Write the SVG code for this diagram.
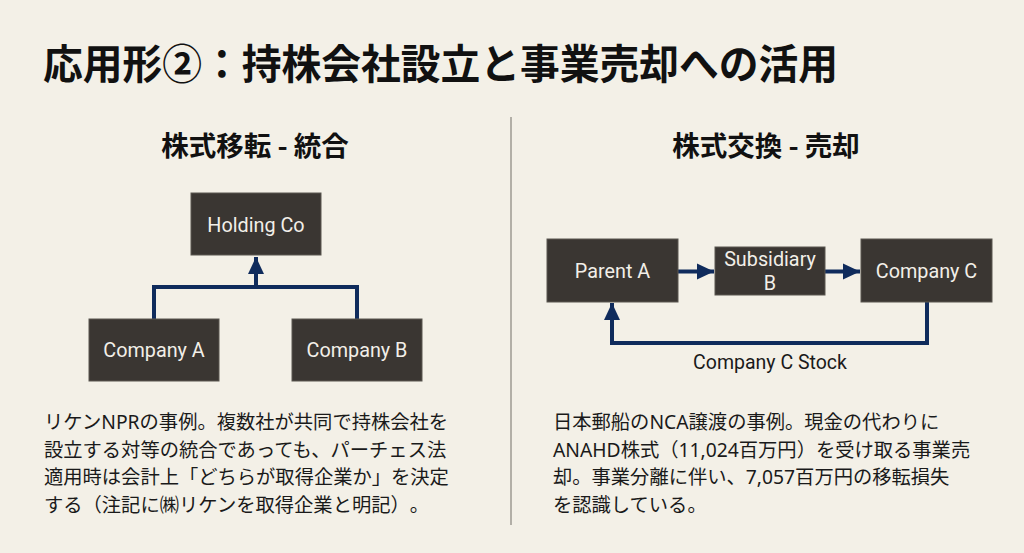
<svg xmlns="http://www.w3.org/2000/svg" width="1024" height="553" viewBox="0 0 1024 553">
<defs>
<style>
text{text-spacing-trim:space-all}
.title{font-family:"Noto Sans CJK JP","Noto Sans CJK SC",sans-serif;font-weight:700;font-size:41px;fill:#111}
.sub{font-family:"Noto Sans CJK JP","Noto Sans CJK SC",sans-serif;font-weight:700;font-size:27.5px;fill:#111}
.body{font-family:"Noto Sans","Noto Sans CJK JP","Noto Sans CJK SC",sans-serif;font-size:19.3px;fill:#1a1a1a}
.box{fill:#3a3632;stroke:#5a5650;stroke-width:1}
.bt{font-family:Roboto,"Liberation Sans",sans-serif;font-size:19.8px;fill:#f2efe8;text-anchor:middle}
.lbl{font-family:Roboto,"Liberation Sans",sans-serif;font-size:19.5px;fill:#1a1a1a;text-anchor:middle}
.conn{fill:none;stroke:#0f2b5c;stroke-width:4;stroke-linejoin:miter}
</style>
<marker id="ah" markerUnits="userSpaceOnUse" markerWidth="18" markerHeight="18" viewBox="0 0 18 18" refX="17" refY="9" orient="auto">
<path d="M0,1 L17,9 L0,17 Z" fill="#0f2b5c"/>
</marker>
</defs>
<rect width="1024" height="553" fill="#f3f0e7"/>
<text class="title" x="43" y="79" textLength="795" lengthAdjust="spacingAndGlyphs">応用形②：持株会社設立と事業売却への活用</text>
<line x1="511" y1="117" x2="511" y2="525" stroke="#9c9a92" stroke-width="1.5"/>
<text class="sub" x="255" y="156" text-anchor="middle">株式移転 - 統合</text>
<text class="sub" x="766" y="156" text-anchor="middle">株式交換 - 売却</text>
<g id="connectors">
<path class="conn" d="M154,319 V287 H357 V319"/>
<path class="conn" d="M256,287 V257" marker-end="url(#ah)"/>
<path class="conn" d="M678,271.5 H714" marker-end="url(#ah)"/>
<path class="conn" d="M825,271.5 H860" marker-end="url(#ah)"/>
<path class="conn" d="M927,302 V343 H612 V303" marker-end="url(#ah)"/>
</g>
<g id="holding">
<rect class="box" x="191" y="193" width="130" height="62"/>
<text class="bt" x="256" y="232">Holding Co</text>
</g>
<g id="companyA">
<rect class="box" x="89" y="319" width="130" height="62"/>
<text class="bt" x="154" y="357">Company A</text>
</g>
<g id="companyB">
<rect class="box" x="292" y="319" width="130" height="62"/>
<text class="bt" x="357" y="357">Company B</text>
</g>
<g id="parentA">
<rect class="box" x="547" y="239" width="131" height="63"/>
<text class="bt" x="612.5" y="278">Parent A</text>
</g>
<g id="subsidiaryB">
<rect class="box" x="715" y="247" width="110" height="48"/>
<text class="bt" x="770" y="266">Subsidiary</text>
<text class="bt" x="770" y="290">B</text>
</g>
<g id="companyC">
<rect class="box" x="861" y="239" width="131" height="63"/>
<text class="bt" x="926.5" y="278">Company C</text>
</g>
<text class="lbl" x="770" y="369">Company C Stock</text>
<g id="leftText">
<text class="body" x="44" y="429">リケンNPRの事例。複数社が共同で持株会社を</text>
<text class="body" x="44" y="456.5">設立する対等の統合であっても、パーチェス法</text>
<text class="body" x="44" y="484">適用時は会計上「どちらが取得企業か」を決定</text>
<text class="body" x="44" y="511.5">する（注記に㈱リケンを取得企業と明記）。</text>
</g>
<g id="rightText">
<text class="body" x="553" y="429">日本郵船のNCA譲渡の事例。現金の代わりに</text>
<text class="body" x="553" y="456.5">ANAHD株式（11,024百万円）を受け取る事業売</text>
<text class="body" x="553" y="484">却。事業分離に伴い、7,057百万円の移転損失</text>
<text class="body" x="553" y="511.5">を認識している。</text>
</g>
</svg>
